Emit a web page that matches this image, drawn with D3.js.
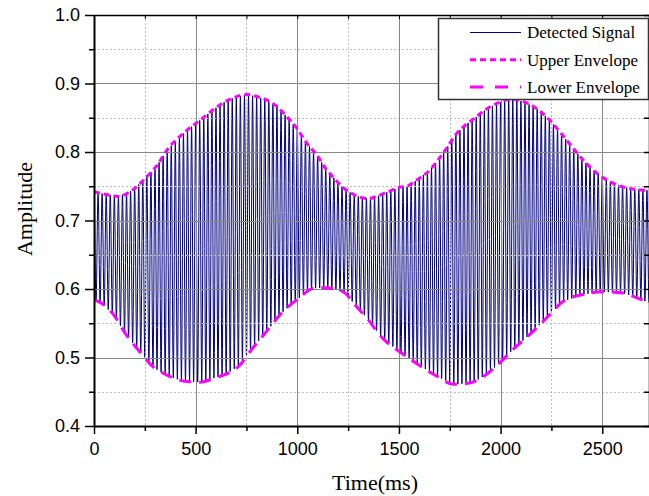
<!DOCTYPE html>
<html>
<head>
<meta charset="utf-8">
<script src="https://cdn.jsdelivr.net/npm/d3@7"></script>
<style>
  body { margin: 0; background: #fff; }
  svg { display: block; }
</style>
</head>
<body>
<div id="app"></div>
<script>
// envelope knots (time in ms, amplitude)
const upperT = [0, 60, 118, 177, 226, 260, 316, 357, 450, 537, 587, 636, 685, 751, 800, 849, 898, 947, 997, 1046, 1095, 1144, 1177, 1218, 1259, 1308, 1349, 1398, 1447, 1497, 1546, 1587, 1653, 1694, 1726, 1784, 1825, 1866, 1932, 1990, 2050, 2110, 2170, 2230, 2290, 2350, 2410, 2470, 2530, 2590, 2650, 2730];
const upperV = [0.742, 0.738, 0.735, 0.742, 0.754, 0.764, 0.783, 0.802, 0.830, 0.850, 0.862, 0.872, 0.879, 0.884, 0.881, 0.876, 0.867, 0.852, 0.835, 0.813, 0.796, 0.774, 0.763, 0.750, 0.741, 0.734, 0.732, 0.736, 0.742, 0.748, 0.751, 0.759, 0.774, 0.789, 0.802, 0.827, 0.839, 0.848, 0.863, 0.872, 0.877, 0.874, 0.865, 0.850, 0.830, 0.808, 0.787, 0.770, 0.758, 0.750, 0.746, 0.744];

const lowerT = [0, 38, 95, 152, 226, 300, 341, 398, 456, 521, 603, 653, 718, 776, 857, 923, 1005, 1079, 1128, 1194, 1243, 1275, 1341, 1423, 1505, 1603, 1685, 1767, 1833, 1899, 1981, 2062, 2145, 2227, 2308, 2407, 2505, 2604, 2670, 2730];
const lowerV = [0.584, 0.579, 0.563, 0.536, 0.508, 0.484, 0.477, 0.469, 0.465, 0.464, 0.471, 0.476, 0.489, 0.512, 0.541, 0.565, 0.586, 0.601, 0.602, 0.599, 0.592, 0.580, 0.558, 0.527, 0.508, 0.488, 0.473, 0.461, 0.462, 0.469, 0.488, 0.512, 0.534, 0.558, 0.582, 0.592, 0.596, 0.594, 0.587, 0.580];

const carrierPeriod = 20; // ms, counted from the spikes

const xTicks = [0, 500, 1000, 1500, 2000, 2500];
const xMinor = [250, 750, 1250, 1750, 2250, 2750];
const yTicks = [0.4, 0.5, 0.6, 0.7, 0.8, 0.9, 1.0];
const yMinor = [0.45, 0.55, 0.65, 0.75, 0.85, 0.95];

const legendNames = ["Detected Signal", "Upper Envelope", "Lower Envelope"];

const app = document.getElementById("app");
const svg = d3.select(app).append("svg").attr("width", 649).attr("height", 496);

const mLeft = 94, mRight = 649, mTop = 15, mBottom = 426;
const x = d3.scaleLinear().domain([0, 2730]).range([mLeft, mRight]);
const y = d3.scaleLinear().domain([0.4, 1.0]).range([mBottom, mTop]);

svg.append("clipPath").attr("id", "plot")
  .append("rect").attr("x", mLeft).attr("y", mTop).attr("width", mRight - mLeft).attr("height", mBottom - mTop);

const upperAt = d3.scaleLinear().domain(upperT).range(upperV).clamp(true);
const lowerAt = d3.scaleLinear().domain(lowerT).range(lowerV).clamp(true);

// carrier swinging between the two envelopes
const signal = d3.range(0, 2730.5, 1).map(t => {
  const u = upperAt(t), l = lowerAt(t);
  return [t, (u + l) / 2 + (u - l) / 2 * Math.cos(2 * Math.PI * t / carrierPeriod)];
});

const plot = svg.append("g").attr("clip-path", "url(#plot)");

plot.append("path")
  .datum(signal)
  .attr("fill", "none")
  .attr("stroke", "#000080")
  .attr("stroke-width", 1)
  .attr("d", d3.line().x(d => x(d[0])).y(d => y(d[1])));

// grid on top of the signal
const px = v => Math.round(x(v)) + 0.5;
const py = v => Math.round(y(v)) + 0.5;

plot.selectAll(".gxm").data(xMinor).enter().append("line")
  .attr("x1", px).attr("x2", px).attr("y1", mTop).attr("y2", mBottom)
  .attr("stroke", "#bbb").attr("stroke-dasharray", "2,2");
plot.selectAll(".gym").data(yMinor).enter().append("line")
  .attr("y1", py).attr("y2", py).attr("x1", mLeft).attr("x2", mRight)
  .attr("stroke", "#bbb").attr("stroke-dasharray", "2,2");
plot.selectAll(".gx").data(xTicks.slice(1)).enter().append("line")
  .attr("x1", px).attr("x2", px).attr("y1", mTop).attr("y2", mBottom)
  .attr("stroke", "#888");
plot.selectAll(".gy").data(yTicks.slice(1, -1)).enter().append("line")
  .attr("y1", py).attr("y2", py).attr("x1", mLeft).attr("x2", mRight)
  .attr("stroke", "#888");

const envLine = d3.line().curve(d3.curveMonotoneX).x(d => x(d[0])).y(d => y(d[1]));

plot.append("path")
  .datum(upperT.map((t, i) => [t, upperV[i]]))
  .attr("fill", "none").attr("stroke", "#ff00ff").attr("stroke-width", 3)
  .attr("stroke-dasharray", "6,4")
  .attr("d", envLine);

plot.append("path")
  .datum(lowerT.map((t, i) => [t, lowerV[i]]))
  .attr("fill", "none").attr("stroke", "#ff00ff").attr("stroke-width", 3)
  .attr("stroke-dasharray", "12,8")
  .attr("d", envLine);

// axes
const tickFont = g => g.selectAll("text")
  .style("font-family", "'Liberation Sans', Arial, sans-serif")
  .style("font-size", "18px")
  .attr("fill", "#000");

const yAxis = svg.append("g").attr("transform", `translate(${mLeft},0)`)
  .call(d3.axisLeft(y).tickValues(yTicks).tickFormat(d3.format(".1f")).tickSize(9).tickSizeOuter(0).tickPadding(5))
  .call(tickFont);
yAxis.select(".domain").attr("stroke-width", 2);
yAxis.selectAll(".tick line").attr("stroke-width", 1.5);
svg.append("g").attr("transform", `translate(${mLeft},0)`)
  .call(d3.axisLeft(y).tickValues(yMinor).tickFormat("").tickSize(5).tickSizeOuter(0))
  .call(g => g.select(".domain").remove())
  .selectAll("line").attr("stroke-width", 1.5);

const xAxis = svg.append("g").attr("transform", `translate(0,${mBottom})`)
  .call(d3.axisBottom(x).tickValues(xTicks).tickFormat(d3.format("d")).tickSize(8).tickSizeOuter(0).tickPadding(8))
  .call(tickFont);
xAxis.select(".domain").attr("stroke-width", 2);
xAxis.selectAll(".tick line").attr("stroke-width", 1.5);
svg.append("g").attr("transform", `translate(0,${mBottom})`)
  .call(d3.axisBottom(x).tickValues(xMinor).tickFormat("").tickSize(5).tickSizeOuter(0))
  .call(g => g.select(".domain").remove())
  .selectAll("line").attr("stroke-width", 1.5);

// mirrored frame on top and right
svg.append("g").attr("transform", `translate(0,${mTop})`)
  .call(d3.axisBottom(x).tickValues(xTicks.concat(xMinor)).tickFormat("").tickSize(4).tickSizeOuter(0))
  .call(g => g.select(".domain").attr("stroke-width", 1.5));
svg.append("g").attr("transform", `translate(${mRight},0)`)
  .call(d3.axisLeft(y).tickValues(yTicks.concat(yMinor)).tickFormat("").tickSize(5).tickSizeOuter(0))
  .call(g => g.select(".domain").attr("stroke-width", 1.5))
  .selectAll("line").attr("stroke-width", 1.5);

// axis titles
svg.append("text")
  .attr("x", 375).attr("y", 490)
  .attr("text-anchor", "middle")
  .style("font-family", "'Liberation Serif', 'Times New Roman', serif")
  .style("font-size", "22px")
  .text("Time(ms)");

svg.append("text")
  .attr("transform", "translate(32,209) rotate(-90)")
  .attr("text-anchor", "middle")
  .style("font-family", "'Liberation Serif', 'Times New Roman', serif")
  .style("font-size", "22px")
  .text("Amplitude");

// legend
const legend = svg.append("g");
legend.append("rect")
  .attr("x", 438.5).attr("y", 18.5).attr("width", 210).attr("height", 81)
  .attr("fill", "#fff").attr("stroke", "#333").attr("stroke-width", 1.5);

const legendStyles = [
  { stroke: "#000080", width: 1, dash: null },
  { stroke: "#ff00ff", width: 3, dash: "6,4" },
  { stroke: "#ff00ff", width: 3, dash: "13,12" }
];

const rows = legend.selectAll(".row").data(legendNames).enter().append("g")
  .attr("transform", (d, i) => `translate(0,${32.5 + i * 27.3})`);

rows.append("line")
  .attr("x1", 470).attr("x2", 521).attr("y1", 0).attr("y2", 0)
  .attr("stroke", (d, i) => legendStyles[i].stroke)
  .attr("stroke-width", (d, i) => legendStyles[i].width)
  .attr("stroke-dasharray", (d, i) => legendStyles[i].dash);

rows.append("text")
  .attr("x", 527).attr("dy", "0.35em")
  .style("font-family", "'Liberation Serif', 'Times New Roman', serif")
  .style("font-size", "17px")
  .text(d => d);
</script>
</body>
</html>
